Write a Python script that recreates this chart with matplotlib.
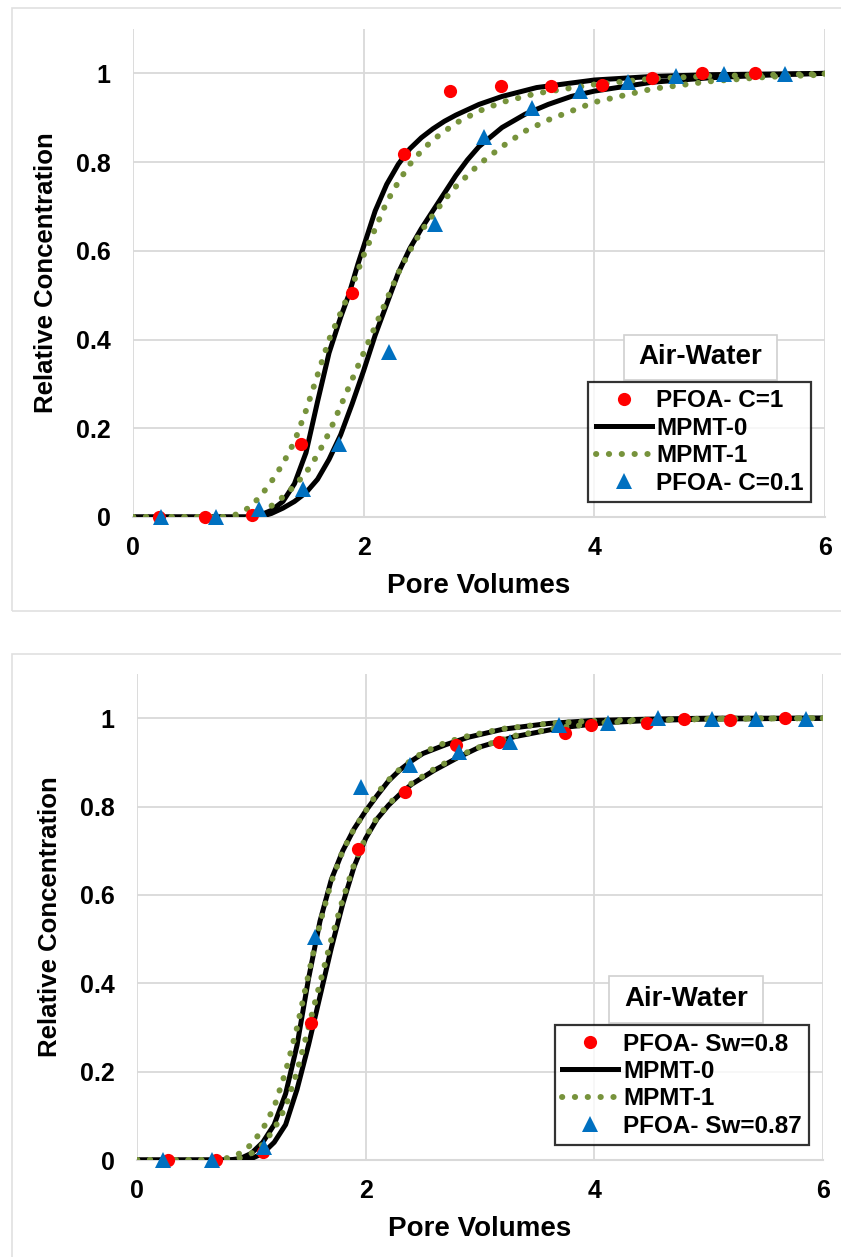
import matplotlib
matplotlib.use("Agg")
import matplotlib.pyplot as plt
from matplotlib.patches import Rectangle
from matplotlib.lines import Line2D

plt.rcParams['font.family'] = ['Liberation Sans', 'DejaVu Sans']
plt.rcParams['font.weight'] = 'bold'

# ---------------- Panel 1 data ----------------
p1_red_x = [0.225, 0.62, 1.03, 1.46, 1.90, 2.35, 2.75, 3.19, 3.62, 4.07, 4.50, 4.93, 5.39]
p1_red_y = [0.0, 0.0, 0.005, 0.165, 0.505, 0.818, 0.96, 0.971, 0.971, 0.973, 0.989, 1.0, 1.0]
p1_blue_x = [0.247, 0.72, 1.09, 1.47, 1.79, 2.22, 2.62, 3.04, 3.46, 3.88, 4.29, 4.71, 5.12, 5.65]
p1_blue_y = [0.0, 0.0, 0.018, 0.063, 0.164, 0.372, 0.66, 0.856, 0.923, 0.96, 0.98, 0.995, 0.998, 0.998]

p1_m0a_x = [0.0, 1.0, 1.1, 1.2, 1.3, 1.4, 1.5, 1.6, 1.7, 1.8, 1.87, 1.95, 2.0, 2.1, 2.2, 2.3, 2.4, 2.5, 2.6, 2.7, 2.8, 3.0, 3.2, 3.5, 4.0, 4.5, 5.0, 6.0]
p1_m0a_y = [0.0, 0.0, 0.004, 0.015, 0.035, 0.075, 0.145, 0.26, 0.37, 0.45, 0.50, 0.57, 0.61, 0.69, 0.75, 0.795, 0.83, 0.855, 0.875, 0.892, 0.906, 0.93, 0.948, 0.968, 0.985, 0.993, 0.997, 1.0]
p1_m1a_x = [0.0, 0.8, 0.9, 1.0, 1.1, 1.2, 1.3, 1.4, 1.5, 1.6, 1.7, 1.8, 1.9, 2.0, 2.1, 2.2, 2.3, 2.4, 2.5, 2.6, 2.8, 3.0, 3.2, 3.5, 4.0, 4.5, 5.0, 6.0]
p1_m1a_y = [0.0, 0.0, 0.006, 0.02, 0.045, 0.08, 0.12, 0.17, 0.24, 0.32, 0.40, 0.46, 0.52, 0.59, 0.65, 0.71, 0.755, 0.795, 0.825, 0.85, 0.888, 0.915, 0.935, 0.955, 0.975, 0.988, 0.994, 0.999]
p1_m0b_x = [0.0, 1.1, 1.2, 1.3, 1.4, 1.5, 1.6, 1.7, 1.8, 1.9, 2.0, 2.1, 2.2, 2.3, 2.4, 2.5, 2.6, 2.7, 2.8, 2.9, 3.0, 3.2, 3.4, 3.6, 3.8, 4.0, 4.5, 5.0, 5.5, 6.0]
p1_m0b_y = [0.0, 0.0, 0.008, 0.02, 0.035, 0.055, 0.085, 0.13, 0.185, 0.255, 0.33, 0.41, 0.48, 0.55, 0.605, 0.65, 0.69, 0.73, 0.77, 0.805, 0.835, 0.878, 0.908, 0.93, 0.948, 0.96, 0.98, 0.99, 0.996, 1.0]
p1_m1b_x = [0.0, 1.0, 1.1, 1.2, 1.3, 1.4, 1.5, 1.6, 1.7, 1.8, 1.9, 2.0, 2.1, 2.2, 2.3, 2.4, 2.5, 2.6, 2.7, 2.8, 2.9, 3.0, 3.2, 3.4, 3.6, 3.8, 4.0, 4.5, 5.0, 5.5, 6.0]
p1_m1b_y = [0.0, 0.0, 0.01, 0.025, 0.045, 0.07, 0.10, 0.14, 0.19, 0.25, 0.31, 0.37, 0.43, 0.49, 0.55, 0.60, 0.645, 0.68, 0.715, 0.745, 0.77, 0.795, 0.835, 0.87, 0.895, 0.915, 0.935, 0.965, 0.982, 0.992, 0.997]

# ---------------- Panel 2 data ----------------
p2_red_x = [0.267, 0.69, 1.10, 1.52, 1.93, 2.34, 2.79, 3.17, 3.74, 3.97, 4.46, 4.78, 5.19, 5.67]
p2_red_y = [0.0, 0.0, 0.019, 0.309, 0.703, 0.833, 0.939, 0.946, 0.967, 0.984, 0.988, 0.999, 0.997, 1.0]
p2_blue_x = [0.227, 0.66, 1.11, 1.56, 1.96, 2.39, 2.82, 3.26, 3.69, 4.12, 4.56, 5.03, 5.41, 5.85]
p2_blue_y = [0.0, 0.0, 0.03, 0.505, 0.845, 0.894, 0.924, 0.946, 0.984, 0.988, 1.0, 0.999, 0.999, 0.999]

p2_m0a_x = [0.0, 0.8, 0.9, 1.0, 1.1, 1.2, 1.3, 1.4, 1.5, 1.6, 1.7, 1.8, 1.9, 2.0, 2.1, 2.2, 2.3, 2.4, 2.5, 2.7, 2.9, 3.2, 3.6, 4.0, 4.5, 5.0, 6.0]
p2_m0a_y = [0.0, 0.0, 0.003, 0.015, 0.04, 0.08, 0.15, 0.26, 0.41, 0.54, 0.635, 0.70, 0.75, 0.79, 0.825, 0.858, 0.883, 0.903, 0.92, 0.94, 0.957, 0.975, 0.988, 0.995, 0.998, 1.0, 1.0]
p2_m1a_x = [0.0, 0.7, 0.8, 0.9, 1.0, 1.1, 1.2, 1.3, 1.4, 1.5, 1.6, 1.7, 1.8, 1.9, 2.0, 2.1, 2.2, 2.3, 2.4, 2.5, 2.7, 2.9, 3.2, 3.6, 4.0, 4.5, 5.0, 6.0]
p2_m1a_y = [0.0, 0.0, 0.005, 0.015, 0.035, 0.07, 0.12, 0.20, 0.30, 0.42, 0.535, 0.63, 0.70, 0.75, 0.79, 0.83, 0.86, 0.885, 0.905, 0.922, 0.945, 0.96, 0.976, 0.988, 0.994, 0.997, 0.999, 1.0]
p2_m0b_x = [0.0, 0.9, 1.0, 1.1, 1.2, 1.3, 1.4, 1.5, 1.6, 1.7, 1.8, 1.9, 2.0, 2.1, 2.2, 2.3, 2.4, 2.6, 2.8, 3.0, 3.3, 3.7, 4.1, 4.5, 5.0, 6.0]
p2_m0b_y = [0.0, 0.0, 0.003, 0.015, 0.04, 0.08, 0.16, 0.26, 0.37, 0.48, 0.58, 0.665, 0.728, 0.772, 0.803, 0.828, 0.85, 0.882, 0.91, 0.935, 0.958, 0.978, 0.99, 0.995, 0.998, 1.0]
p2_m1b_x = [0.0, 0.8, 0.9, 1.0, 1.1, 1.2, 1.3, 1.4, 1.5, 1.6, 1.7, 1.8, 1.9, 2.0, 2.1, 2.2, 2.3, 2.4, 2.6, 2.8, 3.0, 3.3, 3.7, 4.1, 4.5, 5.0, 6.0]
p2_m1b_y = [0.0, 0.0, 0.005, 0.015, 0.035, 0.07, 0.12, 0.20, 0.30, 0.40, 0.50, 0.59, 0.67, 0.73, 0.775, 0.805, 0.83, 0.852, 0.885, 0.913, 0.935, 0.96, 0.979, 0.99, 0.995, 0.998, 1.0]

x_ticks = [0, 2, 4, 6]
y_ticks = [0, 0.2, 0.4, 0.6, 0.8, 1.0]
y_tick_labels = ['0', '0.2', '0.4', '0.6', '0.8', '1']

RED = '#FF0000'
BLUE = '#0070C0'
GREEN = '#77933C'
GRID = '#D9D9D9'

W, H = 841, 1257
fig = plt.figure(figsize=(W / 100, H / 100), dpi=100)

# outer chart frames
fig.add_artist(Rectangle((12 / W, 1 - 611 / H), 2.0, (611 - 8) / H, transform=fig.transFigure,
                         fill=False, edgecolor='#E0E0E0', linewidth=1.2))
fig.add_artist(Rectangle((12 / W, 1 - 1300 / H), 2.0, (1300 - 654) / H, transform=fig.transFigure,
                         fill=False, edgecolor='#E0E0E0', linewidth=1.2))

DOTS = (0, (0.05, 2.1))


def make_panel(rect_px, red, blue, m0a, m1a, m0b, m1b, labels, title_box):
    l, r, t, b = rect_px
    ax = fig.add_axes([l / W, 1 - b / H, (r - l) / W, (b - t) / H])
    ax.set_xlim(0, 6)
    ax.set_ylim(0, 1.1)
    ax.set_xticks(x_ticks)
    ax.set_yticks(y_ticks)
    ax.set_yticklabels(y_tick_labels)
    ax.tick_params(length=0, labelsize=18, pad=14)
    ax.tick_params(axis='y', pad=16)
    for s in ['top', 'right', 'left']:
        ax.spines[s].set_visible(False)
    ax.spines['bottom'].set_color(GRID)
    ax.spines['bottom'].set_linewidth(1.5)
    ax.grid(True, color=GRID, linewidth=1.3)
    ax.set_axisbelow(True)
    for lab in ax.get_xticklabels() + ax.get_yticklabels():
        lab.set_fontweight('bold')

    lw_black = 3.6
    ax.plot(m0a[0], m0a[1], color='black', lw=lw_black, solid_capstyle='round', zorder=3)
    ax.plot(m0b[0], m0b[1], color='black', lw=lw_black, solid_capstyle='round', zorder=3)
    dot_kw = dict(color=GREEN, lw=4.3, linestyle=DOTS, dash_capstyle='round', zorder=4)
    ax.plot(m1a[0], m1a[1], **dot_kw)
    ax.plot(m1b[0], m1b[1], **dot_kw)
    ax.plot(red[0], red[1], 'o', color=RED, ms=9.5, mew=0, zorder=5, clip_on=False)
    ax.plot(blue[0], blue[1], '^', color=BLUE, ms=11, mew=0, zorder=6, clip_on=False)

    ax.set_xlabel('Pore Volumes', fontsize=20, fontweight='bold', labelpad=9)
    ax.set_ylabel('Relative Concentration', fontsize=18.5, fontweight='bold', labelpad=13)

    handles = [
        Line2D([], [], marker='o', color=RED, ls='none', ms=9.5, mew=0),
        Line2D([], [], color='black', lw=lw_black),
        Line2D([], [], color=GREEN, lw=4.3, linestyle=DOTS, dash_capstyle='round'),
        Line2D([], [], marker='^', color=BLUE, ls='none', ms=11, mew=0),
    ]
    leg = ax.legend(handles, labels, loc='lower right', bbox_to_anchor=(0.98, 0.031),
                    prop={'weight': 'bold', 'size': 17.5}, frameon=True, fancybox=False,
                    handlelength=2.3, handletextpad=0.2, labelspacing=0.18, borderpad=0.3,
                    borderaxespad=0.0)
    leg.get_frame().set_edgecolor('black')
    leg.get_frame().set_linewidth(1.6)
    leg.set_zorder(10)

    x0, x1, y0, y1 = title_box
    ax.add_patch(Rectangle((x0, y0), x1 - x0, y1 - y0, transform=ax.transAxes, facecolor='white',
                           edgecolor='#D0D0D0', linewidth=1.2, zorder=9))
    ax.text((x0 + x1) / 2, (y0 + y1) / 2, 'Air-Water', transform=ax.transAxes, ha='center',
            va='center', fontsize=20, fontweight='bold', zorder=11)
    return ax


ax1 = make_panel((133, 825, 29, 517),
                 (p1_red_x, p1_red_y), (p1_blue_x, p1_blue_y),
                 (p1_m0a_x, p1_m0a_y), (p1_m1a_x, p1_m1a_y),
                 (p1_m0b_x, p1_m0b_y), (p1_m1b_x, p1_m1b_y),
                 ['PFOA- C=1', 'MPMT-0', 'MPMT-1', 'PFOA- C=0.1'],
                 (0.7095, 0.9306, 0.2807, 0.373))

ax2 = make_panel((137, 823, 674, 1160),
                 (p2_red_x, p2_red_y), (p2_blue_x, p2_blue_y),
                 (p2_m0a_x, p2_m0a_y), (p2_m1a_x, p2_m1a_y),
                 (p2_m0b_x, p2_m0b_y), (p2_m1b_x, p2_m1b_y),
                 ['PFOA- Sw=0.8', 'MPMT-0', 'MPMT-1', 'PFOA- Sw=0.87'],
                 (0.688, 0.9125, 0.282, 0.379))

fig.savefig('out.png', dpi=100)
